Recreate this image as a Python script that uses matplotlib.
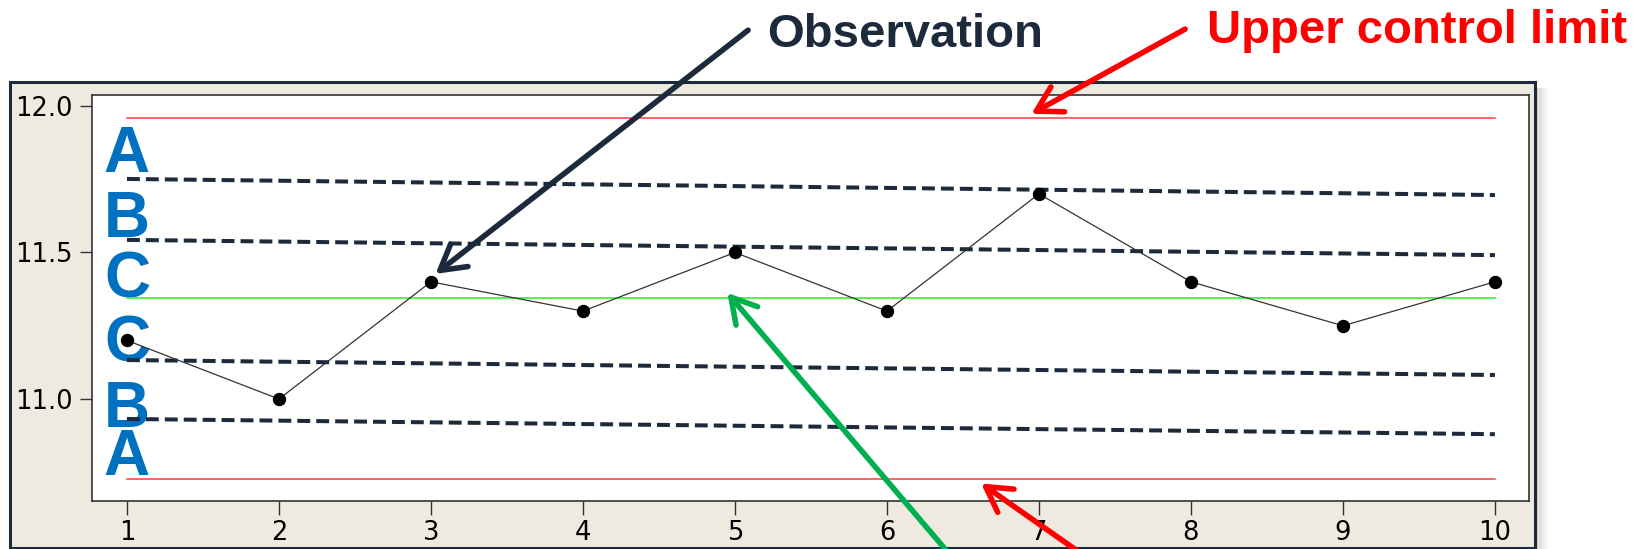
# coding = utf-8
"""
control chart with zones A / B / C and annotated limits
"""
import matplotlib
matplotlib.use("Agg")
import matplotlib.pyplot as plt
from matplotlib.patches import Rectangle

# observations
samples = [1, 2, 3, 4, 5, 6, 7, 8, 9, 10]
values = [11.2, 11.0, 11.4, 11.3, 11.5, 11.3, 11.7, 11.4, 11.25, 11.4]

# control limits
ucl = 11.96
center = 11.345
lcl = 10.727

# zone boundaries (the dashed lines are slightly tilted in the source)
zone_start = [11.751, 11.543, 11.133, 10.932]
zone_end = [11.696, 11.491, 11.082, 10.880]
zone_labels = ["A", "B", "C", "C", "B", "A"]

y_ticks = [11.0, 11.5, 12.0]
y_tick_labels = ["11.0", "11.5", "12.0"]

NAVY = "#1C2A3C"
BLUE = "#0070C0"


def draw_chart():
    """ draw the control chart

    :return: message
    """
    fig = plt.figure(figsize=(16.37, 5.49), dpi=100)
    fig.patch.set_facecolor("white")

    # beige window frame with shadow
    for i, a in enumerate([0.18, 0.12, 0.07, 0.03]):
        fig.patches.append(Rectangle((0.9377 + i * 0.002, -0.01), 0.002, 0.85,
                                     transform=fig.transFigure,
                                     facecolor="black", edgecolor="none",
                                     alpha=a, zorder=-6))
    fig.patches.append(Rectangle((0.0061, 0.002), 0.9316, 0.8485,
                                 transform=fig.transFigure,
                                 facecolor="#EEEAE0", edgecolor=NAVY,
                                 lw=2.2, zorder=-5))

    ax = fig.add_axes([0.0562, 0.0874, 0.8778, 0.7396])
    ax.set_facecolor("white")
    ax.set_xlim(0.77, 10.224)
    ax.set_ylim(10.652, 12.0375)

    # limits
    ax.plot([samples[0], samples[-1]], [ucl, ucl], color="#FF3B3B", lw=1.1)
    ax.plot([samples[0], samples[-1]], [lcl, lcl], color="#FF3B3B", lw=1.1)
    ax.plot([samples[0], samples[-1]], [center, center], color="#22EE22", lw=1.1)

    for s, e in zip(zone_start, zone_end):
        ax.plot([samples[0], samples[-1]], [s, e], color=NAVY, lw=2.9,
                dashes=(3.2, 1.5))

    ax.plot(samples, values, color="#333333", lw=0.9, marker="o",
            markersize=8.6, markerfacecolor="black", markeredgecolor="black")

    # zone letters
    label_y = [11.776, 11.552, 11.347, 11.128, 10.905, 10.741]
    for lab, y in zip(zone_labels, label_y):
        ax.text(samples[0], y, lab, color=BLUE, fontsize=46,
                fontweight="bold", family="Liberation Sans",
                ha="center", va="baseline", zorder=1)

    ax.set_xticks(samples)
    ax.set_xticklabels([str(s) for s in samples])
    ax.set_yticks(y_ticks)
    ax.set_yticklabels(y_tick_labels)
    ax.tick_params(axis="y", length=8.6, width=1, pad=5.0, labelsize=18.5,
                   color="#333333")
    ax.tick_params(axis="x", length=10, width=1, pad=4, labelsize=18.5,
                   color="#333333")
    for sp in ax.spines.values():
        sp.set_color("#333333")
        sp.set_linewidth(1.2)

    # annotations
    fig.text(0.4685, 0.914, "Observation", color=NAVY, fontsize=34,
             fontweight="bold", family="Liberation Sans", va="baseline")
    fig.text(0.7373, 0.922, "Upper control limit", color="#FF0000",
             fontsize=34, fontweight="bold", family="Liberation Sans",
             va="baseline")

    arrows = [
        ((3.03, 11.427), (0.457, 0.945), NAVY),
        ((6.95, 11.973), (0.724, 0.947), "#FF0000"),
        ((4.95, 11.362), (0.583, -0.02), "#00B050"),
        ((6.62, 10.712), (0.666, -0.02), "#FF0000"),
    ]
    for tip, start, col in arrows:
        ax.annotate("", xy=tip, xycoords="data", xytext=start,
                    textcoords="figure fraction", annotation_clip=False,
                    arrowprops=dict(arrowstyle="->,head_length=0.52,head_width=0.3",
                                    color=col, lw=4, mutation_scale=34,
                                    shrinkA=0, shrinkB=0,
                                    capstyle="round", joinstyle="round"))

    plt.savefig("out.png", dpi=100)
    return "draw control chart"


if __name__ == "__main__":
    print(draw_chart())
